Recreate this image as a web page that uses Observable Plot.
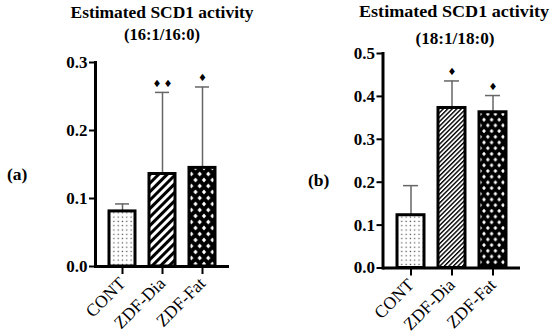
<!DOCTYPE html>
<html><head><meta charset="utf-8">
<script src="https://cdn.jsdelivr.net/npm/d3@7"></script>
<script src="https://cdn.jsdelivr.net/npm/@observablehq/plot@0.6"></script>
<style>
body{margin:0;background:#fff;}
#wrap{position:relative;width:550px;height:336px;overflow:hidden;font-family:'Liberation Serif',serif;}
.panel{position:absolute;top:0;width:275px;height:336px;}
#overlay{position:absolute;left:0;top:0;pointer-events:none;}
</style></head><body>
<div id="wrap">
<svg width="0" height="0" style="position:absolute">
  <defs>
    <pattern id="dots" width="4.3" height="4.3" patternUnits="userSpaceOnUse">
      <rect width="4.3" height="4.3" fill="#fff"/>
      <rect x="1.5" y="1.5" width="1.2" height="1.2" fill="#444"/>
    </pattern>
    <pattern id="stripesA" width="6" height="6" patternUnits="userSpaceOnUse" patternTransform="rotate(45)">
      <rect width="6" height="6" fill="#fff"/>
      <rect x="0" y="0" width="3" height="6" fill="#000"/>
    </pattern>
    <pattern id="stripesB" width="3.2" height="3.2" patternUnits="userSpaceOnUse" patternTransform="rotate(45)">
      <rect width="3.2" height="3.2" fill="#fff"/>
      <rect x="0" y="0" width="1.4" height="3.2" fill="#000"/>
    </pattern>
    <pattern id="crossA" width="8.5" height="12" patternUnits="userSpaceOnUse">
      <rect width="8.5" height="12" fill="#000"/>
      <g fill="#fff">
        <polygon points="0,-2.4 2.1,0 0,2.4 -2.1,0"/>
        <polygon points="8.5,-2.4 10.6,0 8.5,2.4 6.4,0"/>
        <polygon points="0,9.6 2.1,12 0,14.4 -2.1,12"/>
        <polygon points="8.5,9.6 10.6,12 8.5,14.4 6.4,12"/>
        <polygon points="4.25,3.6 6.35,6 4.25,8.4 2.15,6"/>
      </g>
    </pattern>
    <pattern id="crossB" width="7.6" height="11.4" patternUnits="userSpaceOnUse">
      <rect width="7.6" height="11.4" fill="#000"/>
      <g fill="#fff">
        <polygon points="0,-2.2 1.9,0 0,2.2 -1.9,0"/>
        <polygon points="7.6,-2.2 9.5,0 7.6,2.2 5.7,0"/>
        <polygon points="0,9.2 1.9,11.4 0,13.6 -1.9,11.4"/>
        <polygon points="7.6,9.2 9.5,11.4 7.6,13.6 5.7,11.4"/>
        <polygon points="3.8,3.5 5.7,5.7 3.8,7.9 1.9,5.7"/>
      </g>
    </pattern>
  </defs>
</svg>
<div id="pa" class="panel" style="left:0"></div>
<div id="pb" class="panel" style="left:275px"></div>
<svg id="overlay" width="550" height="336">
  <g font-family="'Liberation Serif', serif" font-weight="bold" font-size="17.5" text-anchor="middle" fill="#000">
    <text x="162" y="18" textLength="183" lengthAdjust="spacingAndGlyphs">Estimated SCD1 activity</text>
    <text x="162" y="40" textLength="76" lengthAdjust="spacingAndGlyphs">(16:1/16:0)</text>
    <text x="454" y="17" textLength="190" lengthAdjust="spacingAndGlyphs">Estimated SCD1 activity</text>
    <text x="455" y="44" textLength="79" lengthAdjust="spacingAndGlyphs">(18:1/18:0)</text>
  </g>
  <g font-family="'Liberation Serif', serif" font-weight="bold" font-size="17.5" fill="#000">
    <text x="7" y="180">(a)</text>
    <text x="308" y="186">(b)</text>
  </g>
</svg>
</div>
<script>
// ---- data ----
const categories = ["CONT", "ZDF-Dia", "ZDF-Fat"];
// Panel (a): 16:1/16:0
const meanA  = [0.081, 0.136, 0.145];
const upperA = [0.092, 0.256, 0.264];   // mean + SD
const signA  = ["", "♦\u2009♦", "♦"];
const ticksA = [0, 0.1, 0.2, 0.3];
// Panel (b): 18:1/18:0
const meanB  = [0.123, 0.373, 0.363];
const upperB = [0.192, 0.436, 0.402];
const signB  = ["", "♦", "♦"];
const ticksB = [0, 0.1, 0.2, 0.3, 0.4, 0.5];

const SERIF = "'Liberation Serif', serif";

function panel(mean, upper, sign, ticks, fills, m) {
  const rows = categories.map((c, i) => ({cat: c, mean: mean[i], upper: upper[i], sign: sign[i]}));
  return Plot.plot({
    width: 275, height: 336,
    marginLeft: m.left, marginRight: m.right, marginTop: m.top, marginBottom: m.bottom,
    style: {fontFamily: SERIF, color: "#000", background: "transparent", overflow: "visible"},
    x: {domain: categories, padding: 0.35, label: null},
    y: {domain: [0, ticks[ticks.length - 1]], label: null},
    color: {type: "identity"},
    marks: [
      Plot.axisY({ticks, tickFormat: d3.format(".1f"), tickSize: 6, tickPadding: 2, fontSize: 17, fontWeight: "bold", fontFamily: SERIF, strokeWidth: 2, label: null}),
      Plot.axisX({tickSize: 8, tickPadding: 6, tickRotate: -45, fontSize: 17.5, fontFamily: SERIF, strokeWidth: 2, label: null}),
      Plot.ruleX(rows, {x: "cat", y1: "mean", y2: "upper", stroke: "#666", strokeWidth: 1.5}),
      Plot.tickY(rows, {x: "cat", y: "upper", stroke: "#666", strokeWidth: 1.5, insetLeft: 6, insetRight: 6}),
      Plot.barY(rows, {x: "cat", y: "mean", fill: d => fills[d.cat], stroke: "#000", strokeWidth: 3}),
      Plot.text(rows, {x: "cat", y: "upper", text: "sign", dy: -9, fontSize: 10, fontFamily: "DejaVu Sans", fill: "#000"}),
      Plot.ruleY([0], {strokeWidth: 3, stroke: "#000"}),
      Plot.frame({anchor: "left", strokeWidth: 3, stroke: "#000"})
    ]
  });
}

document.getElementById("pa").append(panel(meanA, upperA, signA, ticksA,
  {"CONT": "url(#dots)", "ZDF-Dia": "url(#stripesA)", "ZDF-Fat": "url(#crossA)"},
  {left: 95, right: 46, top: 62, bottom: 70}));
document.getElementById("pb").append(panel(meanB, upperB, signB, ticksB,
  {"CONT": "url(#dots)", "ZDF-Dia": "url(#stripesB)", "ZDF-Fat": "url(#crossB)"},
  {left: 107.5, right: 30, top: 53, bottom: 68.5}));
</script>
</body></html>
